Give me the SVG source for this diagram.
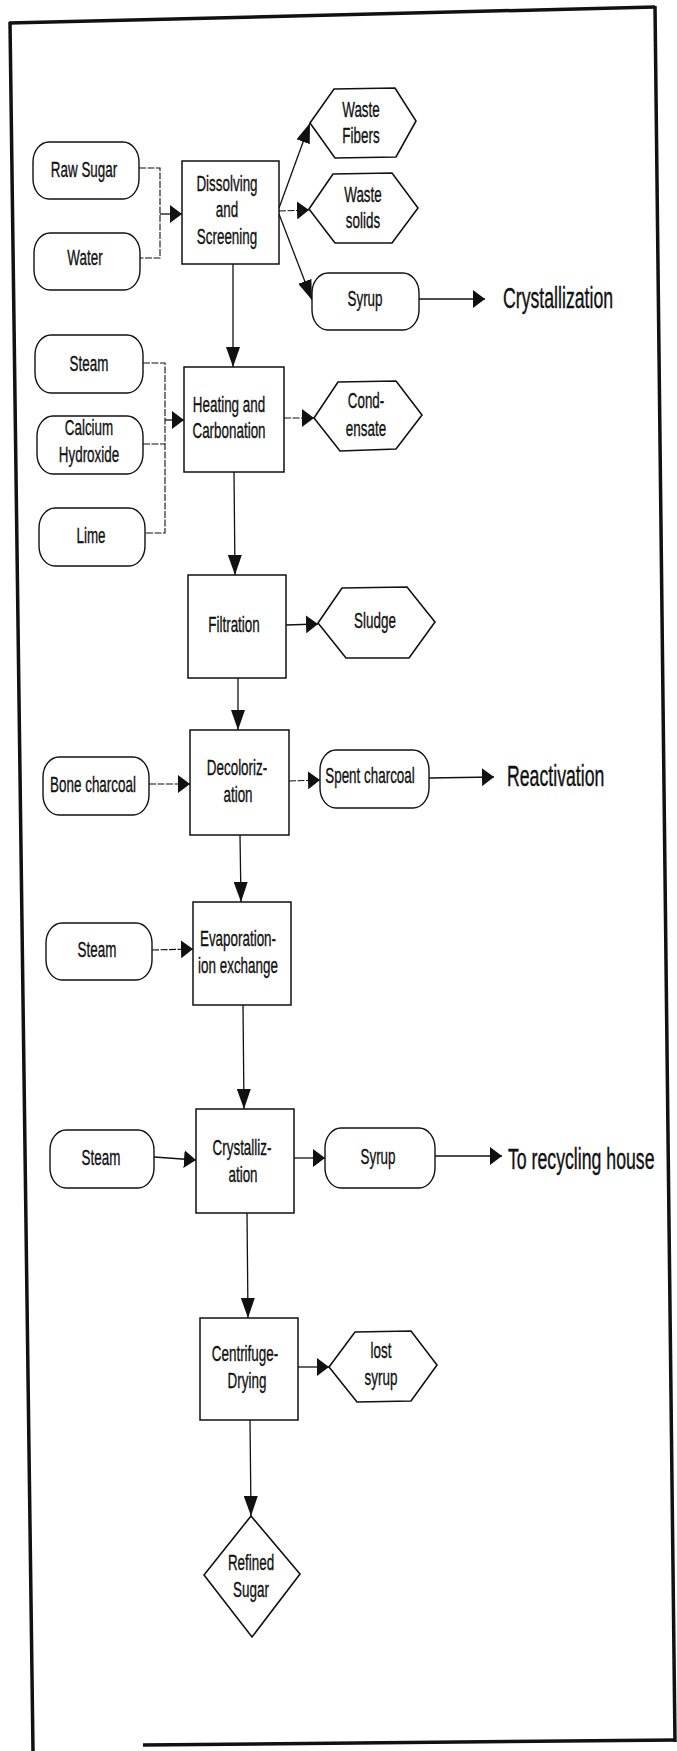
<svg xmlns="http://www.w3.org/2000/svg" width="677" height="1751" viewBox="0 0 677 1751">
<style>
.bx{fill:#fff;stroke:#111;stroke-width:1.5}
.rr{fill:#fff;stroke:#111;stroke-width:1.4}
.hx{fill:#fff;stroke:#111;stroke-width:1.6;stroke-linejoin:miter}
.cn{fill:none;stroke:#111;stroke-width:1.3}
.ds{stroke-dasharray:7 1.5;stroke-width:1.1}
.t{font-family:"Liberation Sans",Arial,sans-serif;font-size:22px;fill:#111;stroke:#111;stroke-width:0.35;text-anchor:middle}
.big{font-family:"Liberation Sans",Arial,sans-serif;font-size:29px;fill:#111;stroke:#111;stroke-width:0.4;text-anchor:start}
.frame{fill:none;stroke:#111;stroke-width:3.5}
</style>
<defs>
<marker id="ah" markerUnits="userSpaceOnUse" viewBox="0 0 12 18" refX="12" refY="9" markerWidth="12" markerHeight="18" orient="auto"><path d="M0,0L12,9L0,18z" fill="#111"/></marker>
<marker id="av" markerUnits="userSpaceOnUse" viewBox="0 0 20 14" refX="20" refY="7" markerWidth="20" markerHeight="14" orient="auto"><path d="M0,0L20,7L0,14z" fill="#111"/></marker>
</defs>
<rect width="677" height="1751" fill="#fff"/>
<g id="frame">
<line class="frame" x1="9" y1="23" x2="655" y2="7"/>
<line class="frame" x1="10" y1="22" x2="33" y2="1751"/>
<line class="frame" x1="655" y1="6" x2="675" y2="1742"/>
<line class="frame" x1="143" y1="1745" x2="676" y2="1740"/>
</g>
<g id="connectors">
<polyline class="cn ds" points="139,168 160,168 160,258 140,258"/>
<line class="cn" x1="160" y1="214" x2="182" y2="214" marker-end="url(#ah)"/>
<line class="cn" x1="279" y1="208" x2="310" y2="123" marker-end="url(#av)"/>
<line class="cn ds" x1="279" y1="211" x2="309" y2="210" marker-end="url(#ah)"/>
<line class="cn" x1="279" y1="214" x2="312" y2="300" marker-end="url(#av)"/>
<line class="cn" x1="419" y1="299" x2="485" y2="299" marker-end="url(#ah)"/>
<line class="cn" x1="233" y1="264" x2="233" y2="367" marker-end="url(#av)"/>
<polyline class="cn ds" points="143,363 165,363 165,533 145,533"/>
<line class="cn ds" x1="143" y1="444" x2="165" y2="444"/>
<line class="cn" x1="165" y1="420" x2="184" y2="420" marker-end="url(#ah)"/>
<line class="cn ds" x1="284" y1="418" x2="314" y2="418" marker-end="url(#ah)"/>
<line class="cn" x1="234" y1="472" x2="235" y2="575" marker-end="url(#av)"/>
<line class="cn" x1="286" y1="625" x2="318" y2="624" marker-end="url(#ah)"/>
<line class="cn" x1="238" y1="678" x2="238" y2="730" marker-end="url(#av)"/>
<line class="cn ds" x1="149" y1="784" x2="190" y2="784" marker-end="url(#ah)"/>
<line class="cn ds" x1="289" y1="781" x2="320" y2="780" marker-end="url(#ah)"/>
<line class="cn" x1="429" y1="778" x2="494" y2="777" marker-end="url(#ah)"/>
<line class="cn" x1="240" y1="835" x2="241" y2="902" marker-end="url(#av)"/>
<line class="cn ds" x1="152" y1="950" x2="193" y2="949" marker-end="url(#ah)"/>
<line class="cn" x1="243" y1="1005" x2="244" y2="1109" marker-end="url(#av)"/>
<line class="cn" x1="154" y1="1157" x2="196" y2="1160" marker-end="url(#ah)"/>
<line class="cn" x1="294" y1="1158" x2="325" y2="1158" marker-end="url(#ah)"/>
<line class="cn" x1="435" y1="1156" x2="502" y2="1156" marker-end="url(#ah)"/>
<line class="cn" x1="247" y1="1213" x2="248" y2="1318" marker-end="url(#av)"/>
<line class="cn" x1="298" y1="1367" x2="329" y2="1367" marker-end="url(#ah)"/>
<line class="cn" x1="250" y1="1420" x2="251" y2="1516" marker-end="url(#av)"/>
</g>
<g id="raw-sugar"><rect class="rr" x="33" y="142" width="106" height="57" rx="16" ry="20"/><text class="t" transform="translate(84,177) scale(0.61,1)">Raw Sugar</text></g>
<g id="water"><rect class="rr" x="34" y="233" width="106" height="57" rx="16" ry="20"/><text class="t" transform="translate(85,265) scale(0.61,1)">Water</text></g>
<g id="dissolving"><rect class="bx" x="182" y="161" width="97" height="103"/><text class="t" transform="translate(227,191) scale(0.61,1)">Dissolving</text><text class="t" transform="translate(227,217) scale(0.61,1)">and</text><text class="t" transform="translate(227,244) scale(0.61,1)">Screening</text></g>
<g id="waste-fibers"><polygon class="hx" points="310,123 334,89 395,88 416,121 396,157 335,158"/><text class="t" transform="translate(361,117) scale(0.61,1)">Waste</text><text class="t" transform="translate(361,143) scale(0.61,1)">Fibers</text></g>
<g id="waste-solids"><polygon class="hx" points="309,209 333,174 392,173 418,208 392,243 335,243"/><text class="t" transform="translate(363,202) scale(0.61,1)">Waste</text><text class="t" transform="translate(363,228) scale(0.61,1)">solids</text></g>
<g id="syrup-1"><rect class="rr" x="312" y="273" width="107" height="57" rx="16" ry="20"/><text class="t" transform="translate(365,306) scale(0.61,1)">Syrup</text></g>
<g id="crystallization-out"><text class="big" transform="translate(503,308) scale(0.61,1)">Crystallization</text></g>
<g id="steam-1"><rect class="rr" x="35" y="335" width="108" height="58" rx="16" ry="20"/><text class="t" transform="translate(89,371) scale(0.61,1)">Steam</text></g>
<g id="calcium-hydroxide"><rect class="rr" x="37" y="416" width="106" height="58" rx="16" ry="20"/><text class="t" transform="translate(89,435) scale(0.61,1)">Calcium</text><text class="t" transform="translate(89,462) scale(0.61,1)">Hydroxide</text></g>
<g id="lime"><rect class="rr" x="39" y="508" width="106" height="58" rx="16" ry="20"/><text class="t" transform="translate(91,543) scale(0.61,1)">Lime</text></g>
<g id="heating"><rect class="bx" x="184" y="367" width="100" height="105"/><text class="t" transform="translate(229,412) scale(0.61,1)">Heating and</text><text class="t" transform="translate(229,438) scale(0.61,1)">Carbonation</text></g>
<g id="condensate"><polygon class="hx" points="314,418 338,382 396,381 422,415 396,449 340,451"/><text class="t" transform="translate(366,408) scale(0.61,1)">Cond-</text><text class="t" transform="translate(366,436) scale(0.61,1)">ensate</text></g>
<g id="filtration"><rect class="bx" x="188" y="575" width="98" height="103"/><text class="t" transform="translate(234,632) scale(0.61,1)">Filtration</text></g>
<g id="sludge"><polygon class="hx" points="318,623 342,588 407,587 435,622 409,658 346,658"/><text class="t" transform="translate(375,628) scale(0.61,1)">Sludge</text></g>
<g id="bone-charcoal"><rect class="rr" x="43" y="757" width="106" height="58" rx="16" ry="20"/><text class="t" transform="translate(93,792) scale(0.61,1)">Bone charcoal</text></g>
<g id="decolorization"><rect class="bx" x="190" y="730" width="99" height="105"/><text class="t" transform="translate(237,775) scale(0.61,1)">Decoloriz-</text><text class="t" transform="translate(238,802) scale(0.61,1)">ation</text></g>
<g id="spent-charcoal"><rect class="rr" x="320" y="750" width="109" height="58" rx="16" ry="20"/><text class="t" transform="translate(370,783) scale(0.61,1)">Spent charcoal</text></g>
<g id="reactivation"><text class="big" transform="translate(507,786) scale(0.61,1)">Reactivation</text></g>
<g id="steam-2"><rect class="rr" x="46" y="923" width="106" height="57" rx="16" ry="20"/><text class="t" transform="translate(97,957) scale(0.61,1)">Steam</text></g>
<g id="evaporation"><rect class="bx" x="193" y="902" width="98" height="103"/><text class="t" transform="translate(238,946) scale(0.61,1)">Evaporation-</text><text class="t" transform="translate(238,973) scale(0.61,1)">ion exchange</text></g>
<g id="steam-3"><rect class="rr" x="50" y="1130" width="104" height="58" rx="16" ry="20"/><text class="t" transform="translate(101,1165) scale(0.61,1)">Steam</text></g>
<g id="crystallization"><rect class="bx" x="196" y="1109" width="98" height="104"/><text class="t" transform="translate(242,1155) scale(0.61,1)">Crystalliz-</text><text class="t" transform="translate(243,1182) scale(0.61,1)">ation</text></g>
<g id="syrup-2"><rect class="rr" x="325" y="1128" width="110" height="60" rx="16" ry="20"/><text class="t" transform="translate(378,1164) scale(0.61,1)">Syrup</text></g>
<g id="recycling"><text class="big" transform="translate(508,1169) scale(0.61,1)">To recycling house</text></g>
<g id="centrifuge"><rect class="bx" x="200" y="1318" width="98" height="102"/><text class="t" transform="translate(245,1361) scale(0.61,1)">Centrifuge-</text><text class="t" transform="translate(247,1388) scale(0.61,1)">Drying</text></g>
<g id="lost-syrup"><polygon class="hx" points="329,1367 355,1332 411,1331 437,1365 411,1401 357,1402"/><text class="t" transform="translate(381,1358) scale(0.61,1)">lost</text><text class="t" transform="translate(381,1385) scale(0.61,1)">syrup</text></g>
<g id="refined-sugar"><polygon class="hx" points="251,1516 300,1574 252,1637 204,1575"/><text class="t" transform="translate(251,1570) scale(0.61,1)">Refined</text><text class="t" transform="translate(251,1597) scale(0.61,1)">Sugar</text></g>
</svg>
